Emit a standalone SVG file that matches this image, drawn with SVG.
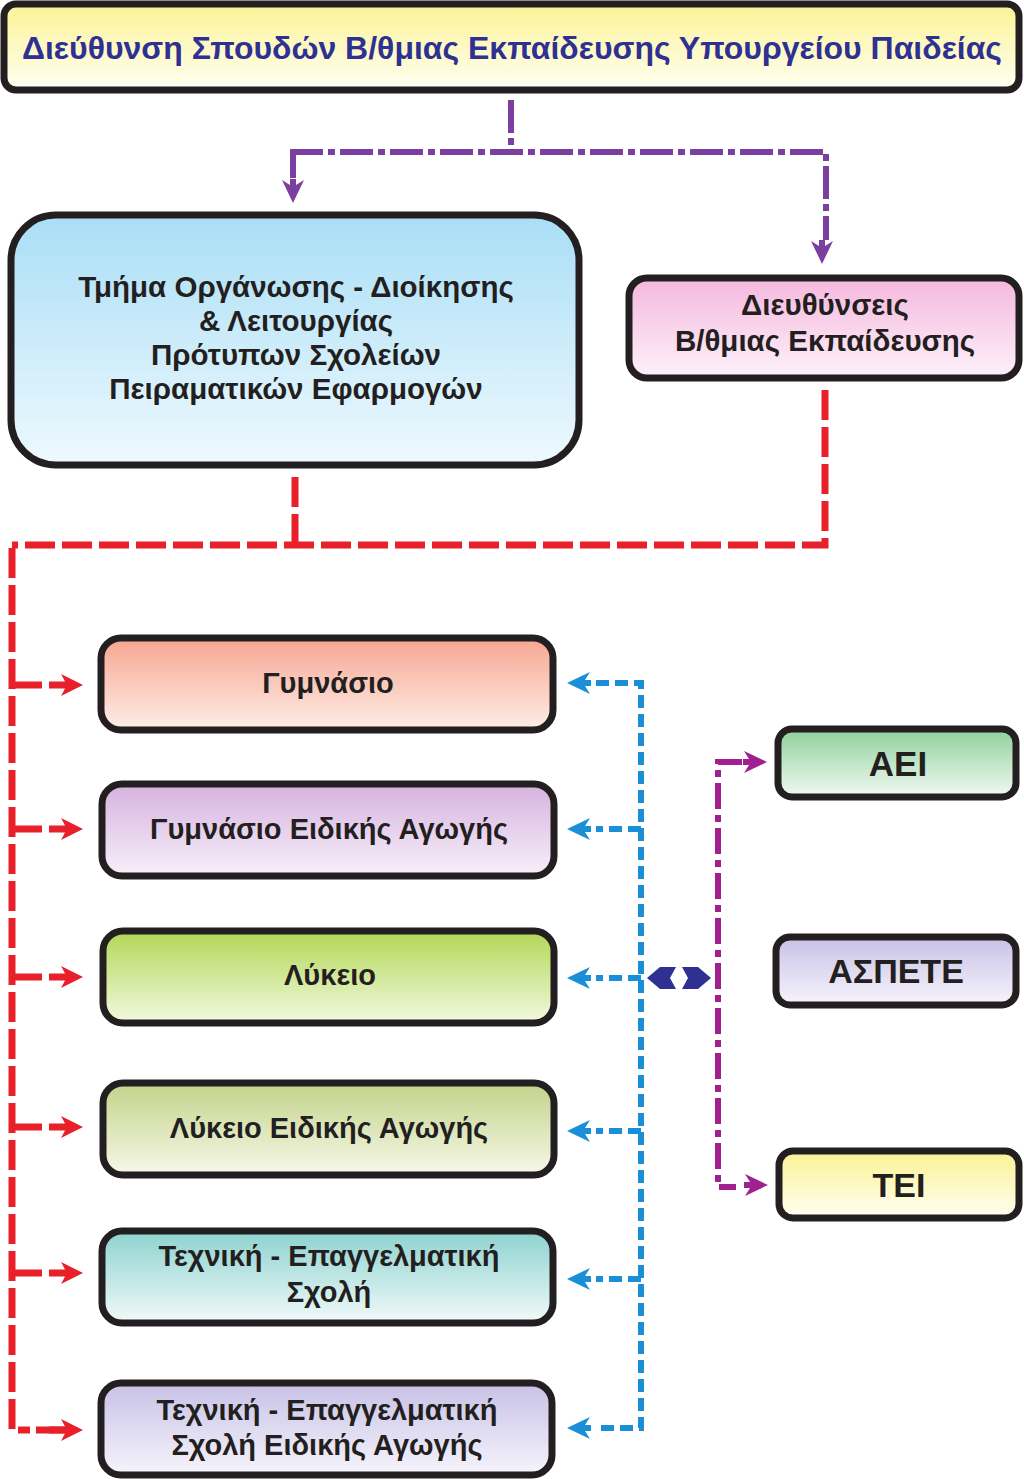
<svg xmlns="http://www.w3.org/2000/svg" xmlns:xlink="http://www.w3.org/1999/xlink" width="1024" height="1479" viewBox="0 0 1024 1479">
<style>
.box{stroke:#231f20;stroke-width:7}
.t{font-family:"Liberation Sans",Arial,sans-serif;font-weight:bold;fill:#231f20;text-anchor:middle}
.red{fill:none;stroke:#e8202a;stroke-width:7;stroke-dasharray:30 7}
.blue{fill:none;stroke:#1a8fd8;stroke-width:6;stroke-dasharray:13 6}
.pur{fill:none;stroke:#7b3fa0;stroke-width:6;stroke-dasharray:33 5 7 5}
.mag{fill:none;stroke:#a0208f;stroke-width:6;stroke-dasharray:26 6 7 6}
</style>
<defs>
<linearGradient id="gTitle" x1="0" y1="0" x2="0" y2="1"><stop offset="0" stop-color="#fbf396"/><stop offset="1" stop-color="#fffff2"/></linearGradient>
<linearGradient id="gBlue" x1="0" y1="0" x2="0" y2="1"><stop offset="0" stop-color="#a9def6"/><stop offset="1" stop-color="#eef9fe"/></linearGradient>
<linearGradient id="gPink" x1="0" y1="0" x2="0" y2="1"><stop offset="0" stop-color="#f5b8de"/><stop offset="1" stop-color="#fdf1f9"/></linearGradient>
<linearGradient id="gSalmon" x1="0" y1="0" x2="0" y2="1"><stop offset="0" stop-color="#f7a591"/><stop offset="1" stop-color="#feeee8"/></linearGradient>
<linearGradient id="gViolet" x1="0" y1="0" x2="0" y2="1"><stop offset="0" stop-color="#d6b2df"/><stop offset="1" stop-color="#f7f0fa"/></linearGradient>
<linearGradient id="gGreen" x1="0" y1="0" x2="0" y2="1"><stop offset="0" stop-color="#b2d755"/><stop offset="1" stop-color="#f2f9e0"/></linearGradient>
<linearGradient id="gOlive" x1="0" y1="0" x2="0" y2="1"><stop offset="0" stop-color="#c3d38a"/><stop offset="1" stop-color="#f6f8e8"/></linearGradient>
<linearGradient id="gTeal" x1="0" y1="0" x2="0" y2="1"><stop offset="0" stop-color="#8dd2cf"/><stop offset="1" stop-color="#f1faf9"/></linearGradient>
<linearGradient id="gLav" x1="0" y1="0" x2="0" y2="1"><stop offset="0" stop-color="#c8c1e6"/><stop offset="1" stop-color="#f6f4fc"/></linearGradient>
<linearGradient id="gMint" x1="0" y1="0" x2="0" y2="1"><stop offset="0" stop-color="#8ed19c"/><stop offset="1" stop-color="#f2faf3"/></linearGradient>
<linearGradient id="gYel" x1="0" y1="0" x2="0" y2="1"><stop offset="0" stop-color="#faf293"/><stop offset="1" stop-color="#fffff2"/></linearGradient>
<path id="ah" d="M0,0 L-22,-11 L-18,-3.5 L-34,-3.5 L-34,3.5 L-18,3.5 L-22,11 Z"/>
<path id="ahs" d="M0,0 L-23,-11 L-18,-3 L-24,-3 L-24,3 L-18,3 L-23,11 Z"/>
</defs>

<g id="connectors">
  <path class="pur" d="M511,100 V152"/>
  <path class="pur" d="M290,152 H826 V240"/>
  <path class="pur" d="M293,152 V178"/>
  <use xlink:href="#ahs" href="#ahs" fill="#7b3fa0" transform="translate(293,203) rotate(90)"/>
  <use xlink:href="#ahs" href="#ahs" fill="#7b3fa0" transform="translate(822,264) rotate(90)"/>
  <path class="red" d="M295,477 V545"/>
  <path class="red" d="M825,390 V545 H12"/>
  <path class="red" d="M12,548 V1430 H30"/>
  <path class="red" d="M12,685 H44"/>
  <path class="red" d="M12,829 H44"/>
  <path class="red" d="M12,977 H44"/>
  <path class="red" d="M12,1127 H44"/>
  <path class="red" d="M12,1273 H44"/>
  <use xlink:href="#ah" href="#ah" fill="#e8202a" transform="translate(83,685)"/>
  <use xlink:href="#ah" href="#ah" fill="#e8202a" transform="translate(83,829)"/>
  <use xlink:href="#ah" href="#ah" fill="#e8202a" transform="translate(83,977)"/>
  <use xlink:href="#ah" href="#ah" fill="#e8202a" transform="translate(83,1127)"/>
  <use xlink:href="#ah" href="#ah" fill="#e8202a" transform="translate(83,1273)"/>
  <rect x="36" y="1426.5" width="30" height="7" fill="#e8202a"/>
  <use xlink:href="#ah" href="#ah" fill="#e8202a" transform="translate(83,1430)"/>
  <path class="blue" d="M596,683 H641 V1428 H596"/>
  <path class="blue" d="M641,829 H596"/>
  <path class="blue" d="M641,978 H596"/>
  <path class="blue" d="M641,1131 H596"/>
  <path class="blue" d="M641,1279 H596"/>
  <use xlink:href="#ahs" href="#ahs" fill="#1a8fd8" transform="translate(567,683) rotate(180)"/>
  <use xlink:href="#ahs" href="#ahs" fill="#1a8fd8" transform="translate(567,829) rotate(180)"/>
  <use xlink:href="#ahs" href="#ahs" fill="#1a8fd8" transform="translate(567,978) rotate(180)"/>
  <use xlink:href="#ahs" href="#ahs" fill="#1a8fd8" transform="translate(567,1131) rotate(180)"/>
  <use xlink:href="#ahs" href="#ahs" fill="#1a8fd8" transform="translate(567,1279) rotate(180)"/>
  <use xlink:href="#ahs" href="#ahs" fill="#1a8fd8" transform="translate(567,1428) rotate(180)"/>
  <path class="mag" d="M742,762 H718 V1187 H736"/>
  <use xlink:href="#ahs" href="#ahs" fill="#a0208f" transform="translate(767,762)"/>
  <use xlink:href="#ahs" href="#ahs" fill="#a0208f" transform="translate(768,1185)"/>
  <polygon fill="#2e3192" points="647,978 660,967 676,967 670,978 676,989 660,989"/>
  <polygon fill="#2e3192" points="711,978 698,967 682,967 688,978 682,989 698,989"/>
</g>

<g id="n-title">
  <rect class="box" x="4" y="4" width="1015" height="86" rx="12" fill="url(#gTitle)"/>
  <text x="512" y="59" font-family="Liberation Sans,Arial,sans-serif" font-weight="bold" font-size="32" fill="#2e3192" text-anchor="middle" textLength="980" lengthAdjust="spacingAndGlyphs">Διεύθυνση Σπουδών Β/θμιας Εκπαίδευσης Υπουργείου Παιδείας</text>
</g>
<g id="n-tmima">
  <rect class="box" x="11" y="215" width="568" height="250" rx="45" fill="url(#gBlue)"/>
  <text class="t" font-size="29.5"><tspan x="296" y="297">Τμήμα Οργάνωσης - Διοίκησης</tspan><tspan x="296" y="331">&amp; Λειτουργίας</tspan><tspan x="296" y="365">Πρότυπων Σχολείων</tspan><tspan x="296" y="399">Πειραματικών Εφαρμογών</tspan></text>
</g>
<g id="n-dieythynseis">
  <rect class="box" x="629" y="278" width="390" height="100" rx="18" fill="url(#gPink)"/>
  <text class="t" font-size="29.5"><tspan x="825" y="315">Διευθύνσεις</tspan><tspan x="825" y="351">Β/θμιας Εκπαίδευσης</tspan></text>
</g>
<g id="n-gymnasio">
  <rect class="box" x="101" y="638" width="452" height="92" rx="20" fill="url(#gSalmon)"/>
  <text class="t" font-size="29" x="328" y="693">Γυμνάσιο</text>
</g>
<g id="n-gymnasio-ea">
  <rect class="box" x="102" y="784" width="452" height="92" rx="20" fill="url(#gViolet)"/>
  <text class="t" font-size="29" x="329" y="839">Γυμνάσιο Ειδικής Αγωγής</text>
</g>
<g id="n-lykeio">
  <rect class="box" x="103" y="931" width="451" height="92" rx="20" fill="url(#gGreen)"/>
  <text class="t" font-size="29" x="330" y="985">Λύκειο</text>
</g>
<g id="n-lykeio-ea">
  <rect class="box" x="103" y="1083" width="451" height="92" rx="20" fill="url(#gOlive)"/>
  <text class="t" font-size="29" x="329" y="1138">Λύκειο Ειδικής Αγωγής</text>
</g>
<g id="n-tes">
  <rect class="box" x="102" y="1231" width="451" height="92" rx="20" fill="url(#gTeal)"/>
  <text class="t" font-size="29"><tspan x="329" y="1266">Τεχνική - Επαγγελματική</tspan><tspan x="329" y="1302">Σχολή</tspan></text>
</g>
<g id="n-tes-ea">
  <rect class="box" x="101" y="1383" width="451" height="92" rx="20" fill="url(#gLav)"/>
  <text class="t" font-size="29"><tspan x="327" y="1420">Τεχνική - Επαγγελματική</tspan><tspan x="327" y="1455">Σχολή Ειδικής Αγωγής</tspan></text>
</g>
<g id="n-aei">
  <rect class="box" x="778" y="729" width="238" height="68" rx="14" fill="url(#gMint)"/>
  <text class="t" font-size="35" x="898" y="776">ΑΕΙ</text>
</g>
<g id="n-aspete">
  <rect class="box" x="776" y="937" width="240" height="68" rx="14" fill="url(#gLav)"/>
  <text class="t" font-size="34" x="896" y="983">ΑΣΠΕΤΕ</text>
</g>
<g id="n-tei">
  <rect class="box" x="779" y="1151" width="240" height="67" rx="14" fill="url(#gYel)"/>
  <text class="t" font-size="34" x="899" y="1197">ΤΕΙ</text>
</g>
</svg>
